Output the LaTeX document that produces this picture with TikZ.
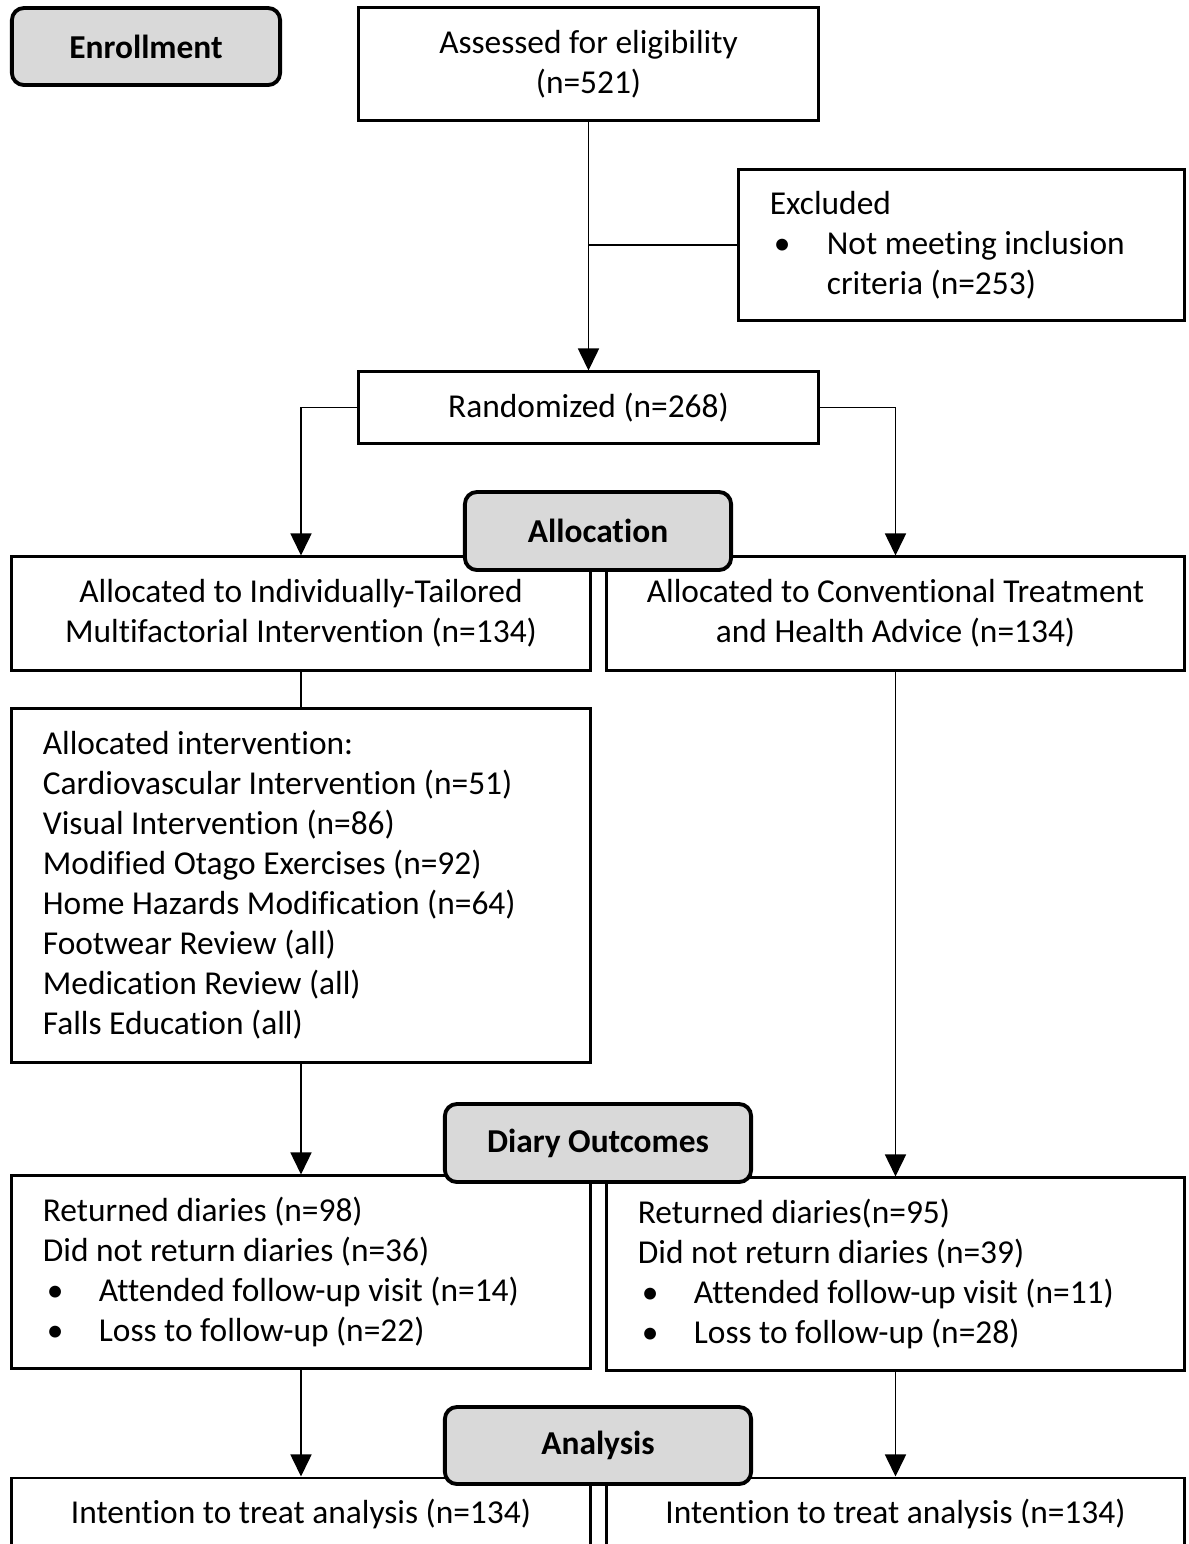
\documentclass[tikz,border=0pt]{standalone}
\usepackage{fontspec}
\setmainfont{Carlito}[Ligatures=NoCommon]
\usetikzlibrary{arrows.meta}
\begin{document}
\begin{tikzpicture}[x=0.01cm,y=-0.01cm,>={Triangle[width=0.21cm,length=0.22cm]},
  every node/.style={font=\fontsize{9.5}{11.38}\selectfont},
  box/.style={draw,line width=0.85pt,inner sep=0pt,align=center},
  lbox/.style={box,align=flush left,text width=#1,inner xsep=0.31cm},
  stage/.style={draw,line width=1.1pt,rounded corners=0.12cm,fill=black!15,
    font=\fontsize{9.5}{11.38}\selectfont\bfseries},
  link/.style={line width=0.45pt}]
  \useasboundingbox (0,0) rectangle (1189,1544);
  \clip (0,0) rectangle (1189,1544);
  \node[box,minimum width=4.59cm,minimum height=1.12cm] (assess) at (588.5,64)
        {Assessed for eligibility\\(n=521)};
  \node[lbox=3.83cm,minimum height=1.5cm] (excl) at (961.5,245)
        {Excluded\\\makebox[0.57cm][l]{\hspace{0.04cm}\textbullet}Not meeting inclusion\\\hspace*{0.57cm}criteria (n=253)};
  \node[box,minimum width=4.59cm,minimum height=0.71cm] (rand) at (588.5,407.5) {Randomized (n=268)};
  \node[box,minimum width=5.78cm,minimum height=1.13cm] (armA) at (301,613.5)
        {Allocated to Individually-Tailored\\Multifactorial Intervention (n=134)};
  \node[box,minimum width=5.77cm,minimum height=1.13cm] (armB) at (895.5,613.5)
        {Allocated to Conventional Treatment\\and Health Advice (n=134)};
  \node[lbox=5.16cm,minimum height=3.53cm] (interv) at (301,885.5)
        {Allocated intervention:\\Cardiovascular Intervention (n=51)\\Visual Intervention (n=86)\\
         Modified Otago Exercises (n=92)\\Home Hazards Modification (n=64)\\Footwear Review (all)\\
         Medication Review (all)\\Falls Education (all)};
  \node[lbox=5.16cm,minimum height=1.92cm] (diaryA) at (301,1272)
        {Returned diaries (n=98)\\Did not return diaries (n=36)\\
         \makebox[0.56cm][l]{\hspace{0.04cm}\textbullet}Attended follow-up visit (n=14)\\
         \makebox[0.56cm][l]{\hspace{0.04cm}\textbullet}Loss to follow-up (n=22)};
  \node[lbox=5.15cm,minimum height=1.92cm] (diaryB) at (895.5,1274)
        {Returned diaries(n=95)\\Did not return diaries (n=39)\\
         \makebox[0.56cm][l]{\hspace{0.04cm}\textbullet}Attended follow-up visit (n=11)\\
         \makebox[0.56cm][l]{\hspace{0.04cm}\textbullet}Loss to follow-up (n=28)};
  \node[box,minimum width=5.78cm,minimum height=0.72cm] (ittA) at (301,1514)
        {Intention to treat analysis (n=134)};
  \node[box,minimum width=5.77cm,minimum height=0.72cm] (ittB) at (895.5,1514)
        {Intention to treat analysis (n=134)};
  \draw[link,->] (assess) -- (rand);
  \draw[link] (assess.south |- excl.west) -- (excl.west);
  \draw[link,->] (rand.west) -| (armA.north);
  \draw[link,->] (rand.east) -| (armB.north);
  \draw[link] (armA) -- (interv);
  \draw[link,->] (interv) -- (diaryA);
  \draw[link,->] (armB) -- (diaryB);
  \draw[link,->] (diaryA) -- (ittA);
  \draw[link,->] (diaryB) -- (ittB);
  \node[stage,minimum width=2.68cm,minimum height=0.77cm] (enrol) at (146,46.5) {Enrollment};
  \node[stage,minimum width=2.66cm,minimum height=0.78cm] (allocst) at (598,531) {Allocation};
  \node[stage,minimum width=3.06cm,minimum height=0.78cm] (diaryst) at (598,1143) {Diary Outcomes};
  \node[stage,minimum width=3.06cm,minimum height=0.77cm] (analyst) at (598,1445.5) {Analysis};
\end{tikzpicture}
\end{document}
